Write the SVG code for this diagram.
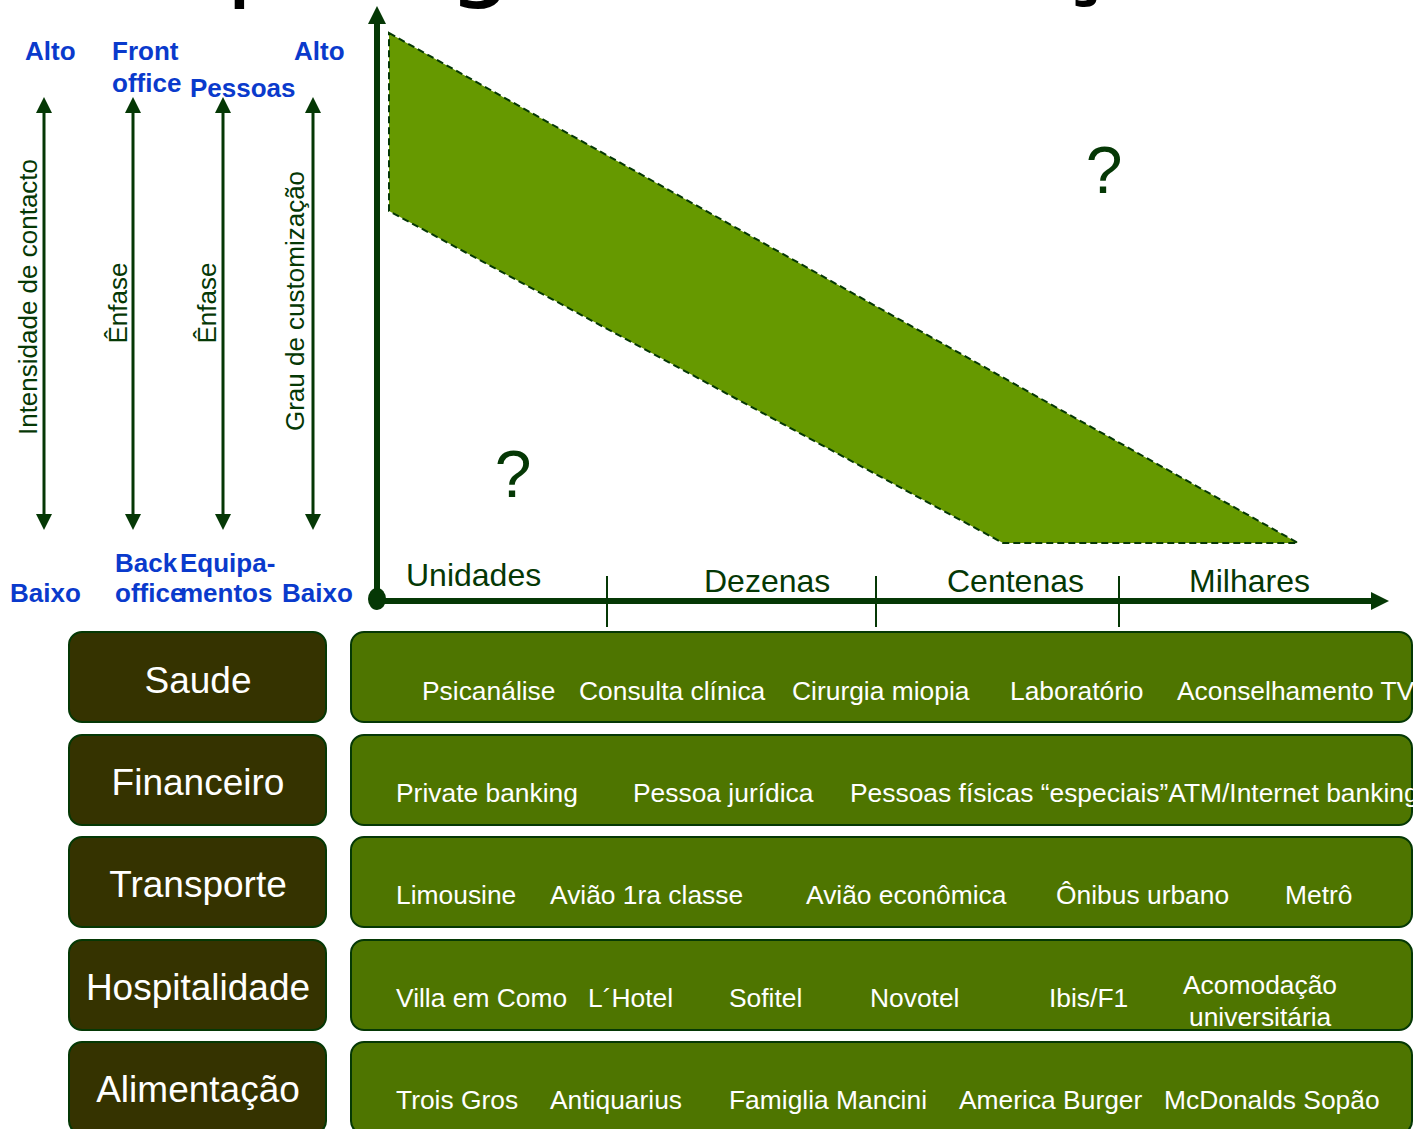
<svg xmlns="http://www.w3.org/2000/svg" width="1414" height="1129" viewBox="0 0 1414 1129">
  <style>
    .title { font-family: "DejaVu Sans", sans-serif; font-size: 104px; fill: #000; }
    .blue { font-family: "Liberation Sans", Arial, sans-serif; font-size: 26px; font-weight: bold; fill: #0a3acc; }
    .vlab { font-family: "Liberation Sans", Arial, sans-serif; font-size: 26px; fill: #053805; }
    .axlab { font-family: "Liberation Sans", Arial, sans-serif; font-size: 32px; fill: #053805; }
    .q { font-family: "Liberation Sans", Arial, sans-serif; font-size: 66px; fill: #053805; }
    .arr { stroke: #053805; stroke-width: 3; fill: none; }
    .axis { stroke: #053805; stroke-width: 6; fill: none; }
    .tick { stroke: #053805; stroke-width: 2; }
    .band { fill: #669900; stroke: #053805; stroke-width: 2; stroke-dasharray: 7 4; }
    .sector rect { fill: #353300; stroke: #053805; stroke-width: 2; }
    .sector text { font-family: "Liberation Sans", Arial, sans-serif; font-size: 37px; fill: #fff; text-anchor: middle; }
    .row rect { fill: #4e7500; stroke: #053805; stroke-width: 2; }
    .row text { font-family: "Liberation Sans", Arial, sans-serif; font-size: 26.4px; fill: #fff; }
  </style>
  <defs>
    <marker id="tip" viewBox="0 0 16 16" markerWidth="16" markerHeight="16" refX="0" refY="8" orient="auto-start-reverse" markerUnits="userSpaceOnUse">
      <path d="M0,0 L16,8 L0,16 z" fill="#053805"/>
    </marker>
    <marker id="axtip" viewBox="0 0 18 18" markerWidth="18" markerHeight="18" refX="0" refY="9" orient="auto-start-reverse" markerUnits="userSpaceOnUse">
      <path d="M0,0 L18,9 L0,18 z" fill="#053805"/>
    </marker>
  </defs>

  <!-- heading, mostly above the top edge -->
  <text class="title" x="136" y="-13">Tipologia de serviços</text>

  <!-- scale labels on the left -->
  <g id="scales">
    <text class="blue" x="25" y="60">Alto</text>
    <text class="blue" x="112" y="60">Front</text>
    <text class="blue" x="112" y="92">office</text>
    <text class="blue" x="190" y="97">Pessoas</text>
    <text class="blue" x="294" y="60">Alto</text>
    <text class="blue" x="10" y="602">Baixo</text>
    <text class="blue" x="115" y="572">Back</text>
    <text class="blue" x="180" y="572">Equipa-</text>
    <text class="blue" x="115" y="602">office</text>
    <text class="blue" x="180" y="602">mentos</text>
    <text class="blue" x="282" y="602">Baixo</text>
    <text class="vlab" transform="translate(37 297) rotate(-90)" text-anchor="middle">Intensidade de contacto</text>
    <text class="vlab" transform="translate(127 303) rotate(-90)" text-anchor="middle">Ênfase</text>
    <text class="vlab" transform="translate(216 303) rotate(-90)" text-anchor="middle">Ênfase</text>
    <text class="vlab" transform="translate(304 301) rotate(-90)" text-anchor="middle">Grau de customização</text>
  </g>

  <!-- volume band -->
  <g id="band">
    <polygon class="band" points="389,33 1298,543 1003,543 389,211"/>
  </g>

  <g id="question-high"><text class="q" x="1104" y="193" text-anchor="middle">?</text></g>
  <g id="question-low"><text class="q" x="513" y="497" text-anchor="middle">?</text></g>

  <!-- volume axis labels -->
  <g id="volume-labels">
    <text class="axlab" x="406" y="586">Unidades</text>
    <text class="axlab" x="704" y="592">Dezenas</text>
    <text class="axlab" x="947" y="592">Centenas</text>
    <text class="axlab" x="1189" y="592">Milhares</text>
  </g>

  <!-- arrows and axes -->
  <g id="connectors">
    <line class="arr" x1="44" y1="113" x2="44" y2="514" marker-start="url(#tip)" marker-end="url(#tip)"/>
    <line class="arr" x1="133" y1="113" x2="133" y2="514" marker-start="url(#tip)" marker-end="url(#tip)"/>
    <line class="arr" x1="223" y1="113" x2="223" y2="514" marker-start="url(#tip)" marker-end="url(#tip)"/>
    <line class="arr" x1="313" y1="113" x2="313" y2="514" marker-start="url(#tip)" marker-end="url(#tip)"/>
    <line class="axis" x1="377" y1="598" x2="377" y2="24" marker-end="url(#axtip)"/>
    <line class="axis" x1="376" y1="601" x2="1371" y2="601" marker-end="url(#axtip)"/>
    <ellipse cx="377" cy="599" rx="9" ry="11" fill="#053805"/>
    <line class="tick" x1="607" y1="576" x2="607" y2="627"/>
    <line class="tick" x1="876" y1="576" x2="876" y2="627"/>
    <line class="tick" x1="1119" y1="576" x2="1119" y2="627"/>
  </g>

  <!-- sectors -->
  <g id="saude" class="sector"><rect x="69" y="632" width="257" height="90" rx="13"/><text x="198" y="693">Saude</text></g>
  <g id="financeiro" class="sector"><rect x="69" y="735" width="257" height="90" rx="13"/><text x="198" y="795">Financeiro</text></g>
  <g id="transporte" class="sector"><rect x="69" y="837" width="257" height="90" rx="13"/><text x="198" y="897">Transporte</text></g>
  <g id="hospitalidade" class="sector"><rect x="69" y="940" width="257" height="90" rx="13"/><text x="198" y="1000">Hospitalidade</text></g>
  <g id="alimentacao" class="sector"><rect x="69" y="1042" width="257" height="92" rx="13"/><text x="198" y="1102">Alimentação</text></g>

  <!-- examples per sector -->
  <g id="saude-row" class="row">
    <rect x="351" y="632" width="1061" height="90" rx="13"/>
    <text x="422" y="700">Psicanálise</text>
    <text x="579" y="700">Consulta clínica</text>
    <text x="792" y="700">Cirurgia miopia</text>
    <text x="1010" y="700">Laboratório</text>
    <text x="1177" y="700">Aconselhamento TV</text>
  </g>
  <g id="financeiro-row" class="row">
    <rect x="351" y="735" width="1061" height="90" rx="13"/>
    <text x="396" y="802">Private banking</text>
    <text x="633" y="802">Pessoa jurídica</text>
    <text x="850" y="802">Pessoas físicas “especiais”ATM/Internet banking</text>
  </g>
  <g id="transporte-row" class="row">
    <rect x="351" y="837" width="1061" height="90" rx="13"/>
    <text x="396" y="904">Limousine</text>
    <text x="550" y="904">Avião 1ra classe</text>
    <text x="806" y="904">Avião econômica</text>
    <text x="1056" y="904">Ônibus urbano</text>
    <text x="1285" y="904">Metrô</text>
  </g>
  <g id="hospitalidade-row" class="row">
    <rect x="351" y="940" width="1061" height="90" rx="13"/>
    <text x="396" y="1007">Villa em Como</text>
    <text x="588" y="1007">L´Hotel</text>
    <text x="729" y="1007">Sofitel</text>
    <text x="870" y="1007">Novotel</text>
    <text x="1049" y="1007">Ibis/F1</text>
    <text x="1183" y="994">Acomodação</text>
    <text x="1189" y="1026">universitária</text>
  </g>
  <g id="alimentacao-row" class="row">
    <rect x="351" y="1042" width="1061" height="92" rx="13"/>
    <text x="396" y="1109">Trois Gros</text>
    <text x="550" y="1109">Antiquarius</text>
    <text x="729" y="1109">Famiglia Mancini</text>
    <text x="959" y="1109">America Burger</text>
    <text x="1164" y="1109">McDonalds Sopão</text>
  </g>
</svg>
